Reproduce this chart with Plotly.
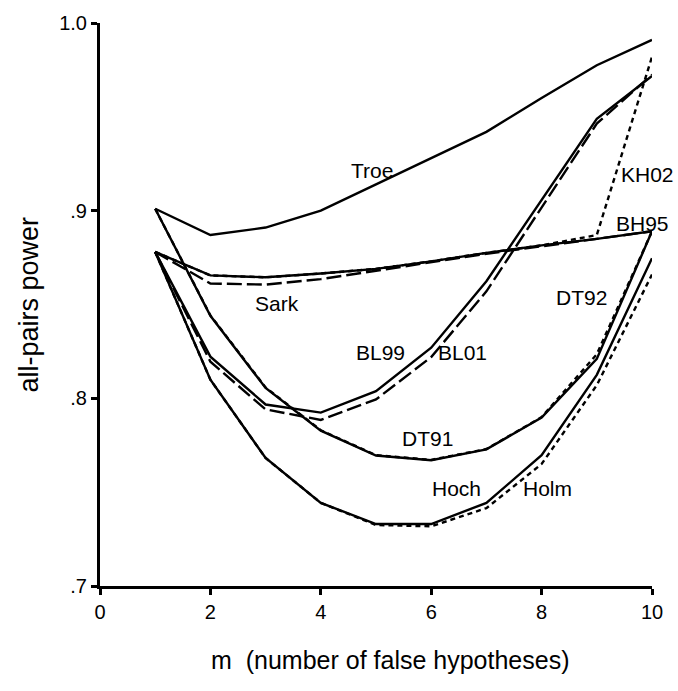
import plotly.graph_objects as go

# number of false hypotheses
m = [1, 2, 3, 4, 5, 6, 7, 8, 9, 10]

# all-pairs power for each procedure
troe = [0.901, 0.887, 0.891, 0.900, 0.914, 0.928, 0.942, 0.960, 0.9775, 0.991]
bh95 = [0.878, 0.8655, 0.8645, 0.8665, 0.869, 0.873, 0.8775, 0.8815, 0.885, 0.889]
kh02 = [0.878, 0.8655, 0.8645, 0.8665, 0.869, 0.873, 0.8775, 0.8815, 0.887, 0.982]
sark = [0.878, 0.8612, 0.8606, 0.8635, 0.868, 0.8725, 0.877, 0.881, 0.885, 0.889]
bl99 = [0.878, 0.8222, 0.7967, 0.7924, 0.8038, 0.827, 0.8624, 0.906, 0.949, 0.9718]
bl01 = [0.878, 0.8195, 0.7941, 0.7885, 0.7994, 0.822, 0.857, 0.9017, 0.9464, 0.9725]
dt91 = [0.901, 0.844, 0.8055, 0.7828, 0.7695, 0.767, 0.7728, 0.7898, 0.821, 0.889]
dt92 = [0.901, 0.8442, 0.8058, 0.783, 0.7697, 0.7672, 0.773, 0.790, 0.8235, 0.889]
hoch = [0.878, 0.8099, 0.7682, 0.7443, 0.733, 0.733, 0.7443, 0.7697, 0.8125, 0.8747]
holm = [0.878, 0.8099, 0.7682, 0.7443, 0.7325, 0.7318, 0.7415, 0.7650, 0.807, 0.866]

y_tickvals = [0.7, 0.8, 0.9, 1.0]
y_ticktext = [".7", ".8", ".9", "1.0"]
x_tickvals = [0, 2, 4, 6, 8, 10]

FONT = "Liberation Sans, Arial, sans-serif"
LONG = "15px,5px"
SHORT = "5px,4px"

series = [
    ("Troe", troe, "solid"),
    ("BH95", bh95, "solid"),
    ("KH02", kh02, SHORT),
    ("Sark", sark, LONG),
    ("BL99", bl99, "solid"),
    ("BL01", bl01, LONG),
    ("DT91", dt91, "solid"),
    ("DT92", dt92, SHORT),
    ("Hoch", hoch, "solid"),
    ("Holm", holm, SHORT),
]

# label text and placement (data coordinates)
labels = [
    ("Troe", 4.92, 0.9216),
    ("KH02", 9.92, 0.9195),
    ("BH95", 9.83, 0.8933),
    ("Sark", 3.20, 0.8505),
    ("DT92", 8.72, 0.8535),
    ("BL99", 5.09, 0.8245),
    ("BL01", 6.57, 0.8245),
    ("DT91", 5.94, 0.7788),
    ("Hoch", 6.46, 0.7522),
    ("Holm", 8.10, 0.7522),
]

fig = go.Figure()
for name, vals, dash in series:
    fig.add_trace(go.Scatter(
        x=m, y=vals, mode="lines", name=name,
        line=dict(color="black", width=2.4, dash=dash),
        showlegend=False,
    ))

for text, lx, ly in labels:
    fig.add_annotation(x=lx, y=ly, text=text, showarrow=False,
                       font=dict(family=FONT, size=21, color="black"))

fig.add_annotation(xref="paper", yref="paper", x=0.5, y=0, xshift=14, yshift=-74,
                   xanchor="center", yanchor="middle",
                   text="m  (number of false hypotheses)", showarrow=False,
                   font=dict(family=FONT, size=25, color="black"))
fig.add_annotation(xref="paper", yref="paper", x=0, y=0.5, xshift=-72,
                   xanchor="center", yanchor="middle",
                   text="all-pairs power", textangle=-90, showarrow=False,
                   font=dict(family=FONT, size=27, color="black"))

axis_common = dict(
    showline=True, linecolor="black", linewidth=3,
    ticks="outside", ticklen=6, tickwidth=3, tickcolor="black",
    showgrid=False, zeroline=False,
    tickfont=dict(family=FONT, size=20, color="black"),
)
fig.update_xaxes(range=[0, 10], tickvals=x_tickvals, **axis_common)
fig.update_yaxes(range=[0.7, 1.0], tickvals=y_tickvals, ticktext=y_ticktext,
                 **axis_common)

fig.update_layout(
    width=678, height=691,
    margin=dict(l=100, r=26, t=15, b=105),
    plot_bgcolor="white", paper_bgcolor="white",
    font=dict(family=FONT, color="black"),
)

fig.write_html("out.html")
